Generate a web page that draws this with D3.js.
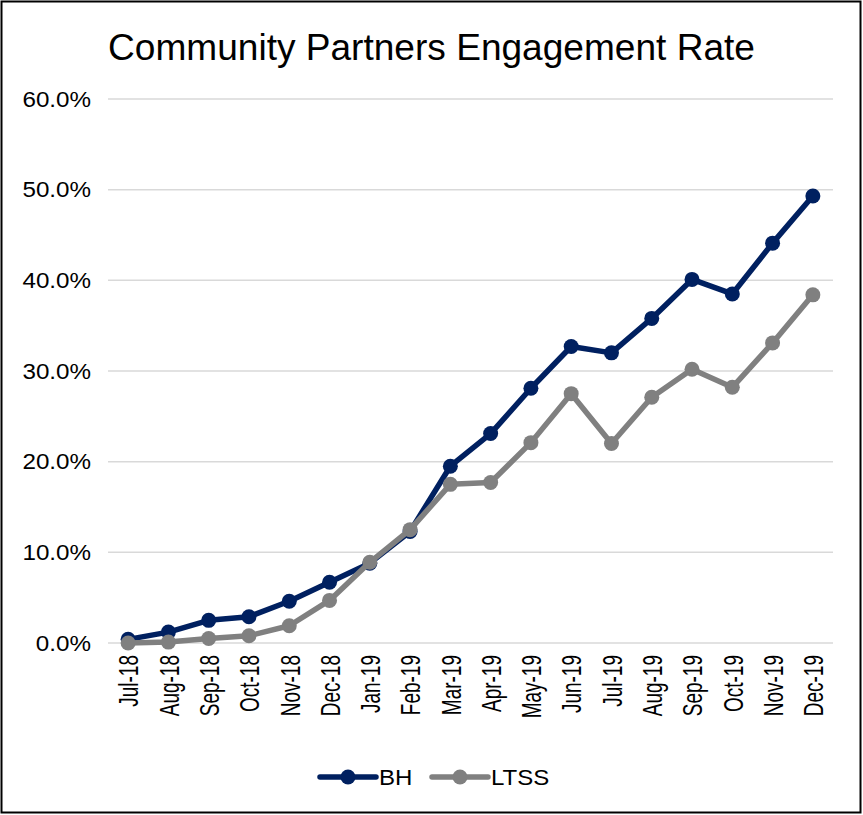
<!DOCTYPE html>
<html>
<head>
<meta charset="utf-8">
<script src="https://cdn.jsdelivr.net/npm/d3@7"></script>
<style>
  html, body { margin: 0; padding: 0; background: #fff; }
  svg { display: block; }
  text { font-family: "Liberation Sans", Arial, sans-serif; fill: #000; }
</style>
</head>
<body>
<svg id="chart" width="863" height="815"></svg>
<script>
// Monthly engagement rates (%)
const months = ["Jul-18","Aug-18","Sep-18","Oct-18","Nov-18","Dec-18","Jan-19","Feb-19","Mar-19","Apr-19","May-19","Jun-19","Jul-19","Aug-19","Sep-19","Oct-19","Nov-19","Dec-19"];
const bhValues   = [0.4, 1.2, 2.5, 2.9, 4.6, 6.7, 8.8, 12.3, 19.5, 23.1, 28.1, 32.7, 32.0, 35.8, 40.1, 38.5, 44.1, 49.3];
const ltssValues = [0.0, 0.1, 0.5, 0.8, 1.9, 4.7, 8.9, 12.5, 17.5, 17.7, 22.1, 27.5, 22.0, 27.1, 30.2, 28.2, 33.1, 38.4];
const yTicks = [0, 10, 20, 30, 40, 50, 60];
const seriesNames = ["BH", "LTSS"];
const seriesColors = ["#002060", "#808080"];

const W = 863, H = 815;
const margin = { left: 108, right: 30, top: 99, bottom: 172 };
const svg = d3.select("#chart");

// frame
svg.append("rect")
  .attr("x", 1.5).attr("y", 1.5)
  .attr("width", W - 4).attr("height", H - 4)
  .attr("fill", "#fff").attr("stroke", "#000").attr("stroke-width", 2);

const x = d3.scalePoint().domain(months)
  .range([margin.left, W - margin.right]).padding(0.5);
const y = d3.scaleLinear().domain([0, 60])
  .range([H - margin.bottom, margin.top]);

// title
svg.append("text")
  .attr("transform", `translate(${W / 2},60) scale(1.03,1)`)
  .attr("text-anchor", "middle")
  .attr("font-size", 36)
  .text("Community Partners Engagement Rate");

// gridlines
svg.append("g").selectAll("line").data(yTicks).join("line")
  .attr("x1", margin.left).attr("x2", W - margin.right)
  .attr("y1", d => y(d)).attr("y2", d => y(d))
  .attr("stroke", "#d9d9d9").attr("stroke-width", 1.5);

// y tick labels
svg.append("g").selectAll("text").data(yTicks).join("text")
  .attr("transform", d => `translate(91,${y(d) + 7.5}) scale(1.1,1)`)
  .attr("text-anchor", "end")
  .attr("font-size", 22)
  .text(d => d3.format(".1f")(d) + "%");

// x tick labels (rotated)
svg.append("g").selectAll("text").data(months).join("text")
  .attr("transform", d => `translate(${x(d)},655) scale(1.5,1) rotate(-90)`)
  .attr("text-anchor", "end")
  .attr("dy", "0.36em")
  .attr("font-size", 19)
  .text(d => d);

// series lines + markers
const series = [bhValues, ltssValues];
const line = d3.line().x((d, i) => x(months[i])).y(d => y(d));
series.forEach((vals, s) => {
  const g = svg.append("g");
  g.append("path").datum(vals)
    .attr("d", line)
    .attr("fill", "none")
    .attr("stroke", seriesColors[s])
    .attr("stroke-width", 5.5)
    .attr("stroke-linejoin", "round");
  g.selectAll("circle").data(vals).join("circle")
    .attr("cx", (d, i) => x(months[i]))
    .attr("cy", d => y(d))
    .attr("r", 7.5)
    .attr("fill", seriesColors[s]);
});

// legend
const legendX = [320, 432];
const legendY = 777;
seriesNames.forEach((name, s) => {
  const g = svg.append("g");
  g.append("line")
    .attr("x1", legendX[s]).attr("x2", legendX[s] + 56)
    .attr("y1", legendY).attr("y2", legendY)
    .attr("stroke", seriesColors[s]).attr("stroke-width", 5.5)
    .attr("stroke-linecap", "round");
  g.append("circle")
    .attr("cx", legendX[s] + 28).attr("cy", legendY).attr("r", 7.5)
    .attr("fill", seriesColors[s]);
  g.append("text")
    .attr("transform", `translate(${legendX[s] + 59},${legendY + 7.5}) scale(1.12,1)`)
    .attr("font-size", 21.5)
    .text(name);
});
</script>
</body>
</html>
